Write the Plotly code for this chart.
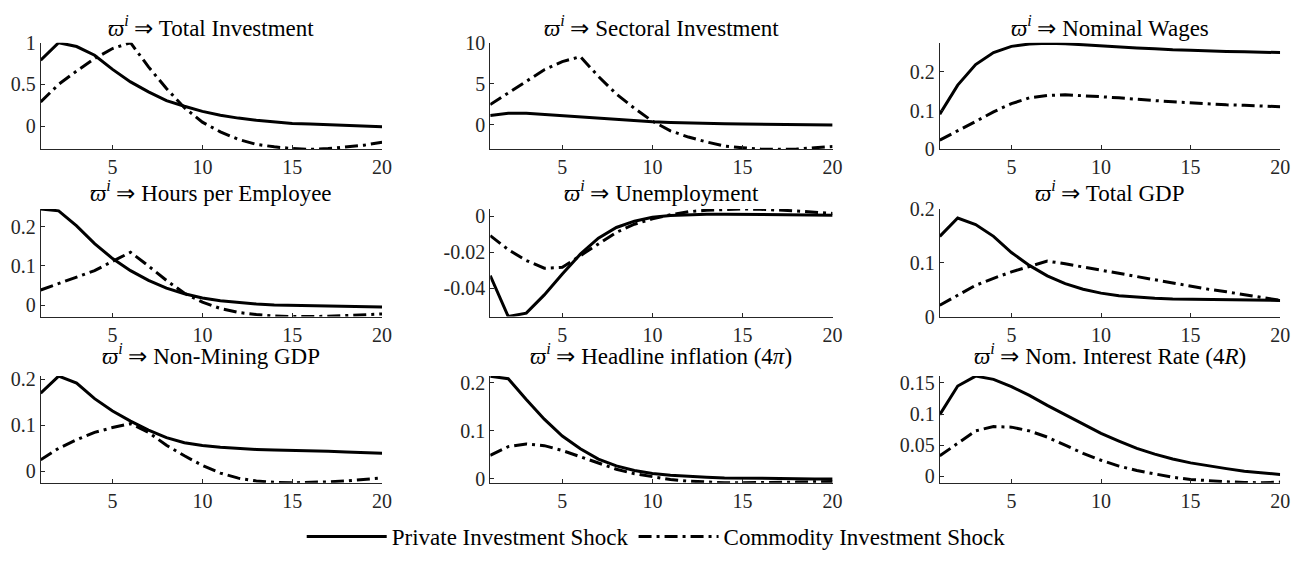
import plotly.graph_objects as go

# ---------------- data ----------------
periods = list(range(1, 21))

panel_titles = [
    "Total Investment", "Sectoral Investment", "Nominal Wages",
    "Hours per Employee", "Unemployment", "Total GDP",
    "Non-Mining GDP", "Headline inflation (4<i>π</i>)", "Nom. Interest Rate (4<i>R</i>)",
]

series_names = ["Private Investment Shock", "Commodity Investment Shock"]

total_inv_private = [0.79, 1.00, 0.954, 0.85, 0.68, 0.53, 0.41, 0.305, 0.237, 0.176, 0.13, 0.095, 0.07, 0.046, 0.03, 0.023, 0.015, 0.008, 0.0, -0.008]
total_inv_commodity = [0.29, 0.50, 0.66, 0.81, 0.93, 1.0, 0.71, 0.45, 0.22, 0.046, -0.07, -0.16, -0.22, -0.25, -0.27, -0.28, -0.27, -0.25, -0.23, -0.195]

sect_inv_private = [1.13, 1.4, 1.4, 1.25, 1.1, 0.9, 0.74, 0.59, 0.47, 0.35, 0.27, 0.2, 0.15, 0.12, 0.08, 0.05, 0.04, 0.02, 0.0, -0.02]
sect_inv_commodity = [2.46, 3.9, 5.3, 6.7, 7.7, 8.3, 5.9, 3.75, 2.0, 0.43, -0.74, -1.5, -2.1, -2.6, -2.8, -2.97, -3.0, -2.97, -2.8, -2.65]

wages_private = [0.091, 0.166, 0.219, 0.25, 0.266, 0.272, 0.274, 0.273, 0.27, 0.267, 0.265, 0.262, 0.26, 0.257, 0.256, 0.254, 0.253, 0.252, 0.2515, 0.25]
wages_commodity = [0.024, 0.047, 0.072, 0.097, 0.118, 0.133, 0.139, 0.141, 0.139, 0.136, 0.133, 0.129, 0.126, 0.123, 0.12, 0.117, 0.115, 0.114, 0.112, 0.11]

hours_private = [0.246, 0.241, 0.2025, 0.157, 0.119, 0.088, 0.063, 0.043, 0.029, 0.018, 0.011, 0.006, 0.0025, 0.0, -0.001, -0.002, -0.0025, -0.003, -0.004, -0.005]
hours_commodity = [0.0385, 0.055, 0.071, 0.088, 0.112, 0.135, 0.1, 0.063, 0.03, 0.0074, -0.009, -0.019, -0.0245, -0.028, -0.0295, -0.0295, -0.029, -0.027, -0.025, -0.023]

unemp_private = [-0.0329, -0.0556, -0.0537, -0.0436, -0.032, -0.021, -0.0121, -0.0062, -0.0027, -0.0005, 0.0005, 0.001, 0.0012, 0.0012, 0.0011, 0.001, 0.0009, 0.0008, 0.0007, 0.0006]
unemp_commodity = [-0.0107, -0.0185, -0.0245, -0.0288, -0.0283, -0.0219, -0.015, -0.0089, -0.0044, -0.0014, 0.0009, 0.0025, 0.0034, 0.0039, 0.0041, 0.0039, 0.0036, 0.003, 0.0023, 0.0016]

gdp_private = [0.149, 0.183, 0.171, 0.149, 0.119, 0.095, 0.0756, 0.061, 0.0506, 0.0435, 0.0387, 0.0357, 0.034, 0.0327, 0.032, 0.0315, 0.031, 0.031, 0.030, 0.0298]
gdp_commodity = [0.021, 0.04, 0.058, 0.071, 0.083, 0.093, 0.103, 0.098, 0.092, 0.086, 0.080, 0.074, 0.068, 0.0625, 0.0565, 0.0506, 0.046, 0.0405, 0.035, 0.030]

nm_gdp_private = [0.17, 0.207, 0.192, 0.158, 0.131, 0.109, 0.0895, 0.073, 0.062, 0.056, 0.052, 0.049, 0.0475, 0.046, 0.0455, 0.044, 0.0434, 0.042, 0.0406, 0.039]
nm_gdp_commodity = [0.025, 0.05, 0.0685, 0.0846, 0.095, 0.1035, 0.0846, 0.0566, 0.0336, 0.0126, -0.004, -0.015, -0.021, -0.024, -0.025, -0.0245, -0.023, -0.021, -0.018, -0.0147]

infl_private = [0.213, 0.208, 0.165, 0.124, 0.089, 0.0624, 0.041, 0.027, 0.0174, 0.0114, 0.0074, 0.0047, 0.0034, 0.002, 0.0013, 0.0007, 0.0005, 0.0002, 0.0, -0.0002]
infl_commodity = [0.049, 0.067, 0.0725, 0.069, 0.059, 0.0456, 0.032, 0.020, 0.0107, 0.004, -0.0013, -0.0047, -0.0067, -0.008, -0.008, -0.008, -0.0074, -0.0067, -0.006, -0.0054]

rate_private = [0.099, 0.145, 0.161, 0.1557, 0.144, 0.13, 0.114, 0.099, 0.0835, 0.069, 0.0567, 0.0448, 0.0356, 0.0278, 0.0216, 0.0165, 0.0124, 0.0082, 0.0057, 0.003]
rate_commodity = [0.033, 0.0536, 0.073, 0.080, 0.079, 0.073, 0.063, 0.05, 0.037, 0.0258, 0.0165, 0.0093, 0.0036, -0.0015, -0.005, -0.0072, -0.0088, -0.0098, -0.0103, -0.0093]

private_series = [total_inv_private, sect_inv_private, wages_private,
                  hours_private, unemp_private, gdp_private,
                  nm_gdp_private, infl_private, rate_private]
commodity_series = [total_inv_commodity, sect_inv_commodity, wages_commodity,
                    hours_commodity, unemp_commodity, gdp_commodity,
                    nm_gdp_commodity, infl_commodity, rate_commodity]

y_limits = [[-0.28, 1.0], [-3.0, 10.0], [0.0, 0.2755],
            [-0.0295, 0.246], [-0.0556, 0.0041], [0.0, 0.2],
            [-0.025, 0.207], [-0.008, 0.2134], [-0.0103, 0.161]]

y_tick_values = [[0, 0.5, 1], [0, 5, 10], [0, 0.1, 0.2],
                 [0, 0.1, 0.2], [-0.04, -0.02, 0], [0, 0.1, 0.2],
                 [0, 0.1, 0.2], [0, 0.1, 0.2], [0, 0.05, 0.1, 0.15]]
y_tick_labels = [["0", "0.5", "1"], ["0", "5", "10"], ["0", "0.1", "0.2"],
                 ["0", "0.1", "0.2"], ["-0.04", "-0.02", "0"], ["0", "0.1", "0.2"],
                 ["0", "0.1", "0.2"], ["0", "0.1", "0.2"], ["0", "0.05", "0.1", "0.15"]]

x_tick_values = [5, 10, 15, 20]

# ---------------- layout geometry ----------------
W, H = 1312, 561
col_px = [(41, 385), (494, 839), (947, 1290)]
row_px = [(33, 144), (206, 318), (380, 491)]
title_y_px = [16, 188, 357]

FONT = "Liberation Serif"
AX_COLOR = "#262626"
DASHDOT = "13px,5px,3px,5px"

fig = go.Figure()
layout = dict(
    width=W, height=H,
    margin=dict(l=0, r=0, t=0, b=0),
    paper_bgcolor="white", plot_bgcolor="white",
    font=dict(family=FONT, size=20, color=AX_COLOR),
    showlegend=True,
    legend=dict(orientation="h", x=0.504, y=1 - 547 / H, xanchor="center", yanchor="middle",
                font=dict(family=FONT, size=23, color="black"), itemwidth=80,
                bgcolor="rgba(0,0,0,0)"),
)
annotations = []

for i in range(9):
    r, c = divmod(i, 3)
    idx = "" if i == 0 else str(i + 1)
    x0, x1 = col_px[c]
    y0, y1 = row_px[r]
    xd = [x0 / W, x1 / W]
    yd = [1 - y1 / H, 1 - y0 / H]
    axis_common = dict(showgrid=False, zeroline=False, showline=True, linecolor=AX_COLOR,
                       linewidth=1, ticks="inside", ticklen=4, tickcolor=AX_COLOR,
                       tickfont=dict(family=FONT, size=20, color=AX_COLOR), mirror=False)
    layout["xaxis" + idx] = dict(domain=xd, anchor="y" + idx, range=[1, 20],
                                 tickvals=x_tick_values, ticktext=[str(v) for v in x_tick_values],
                                 **axis_common)
    layout["yaxis" + idx] = dict(domain=yd, anchor="x" + idx, range=y_limits[i],
                                 tickvals=y_tick_values[i], ticktext=y_tick_labels[i],
                                 **axis_common)
    fig.add_trace(go.Scatter(x=periods, y=private_series[i], mode="lines",
                             line=dict(color="black", width=3),
                             name=series_names[0], legendgroup="p", showlegend=(i == 0),
                             xaxis="x" + idx, yaxis="y" + idx, cliponaxis=False))
    fig.add_trace(go.Scatter(x=periods, y=commodity_series[i], mode="lines",
                             line=dict(color="black", width=3, dash=DASHDOT),
                             name=series_names[1], legendgroup="c", showlegend=(i == 0),
                             xaxis="x" + idx, yaxis="y" + idx, cliponaxis=False))
    annotations.append(dict(
        text="<i>ϖ</i><sup><i>i</i></sup> ⇒ " + panel_titles[i],
        x=(x0 + x1) / 2 / W, y=1 - title_y_px[r] / H, xref="paper", yref="paper",
        xanchor="center", yanchor="middle", showarrow=False,
        font=dict(family=FONT, size=23, color="black")))

layout["annotations"] = annotations
fig.update_layout(**layout)
fig.write_html("out.html")
